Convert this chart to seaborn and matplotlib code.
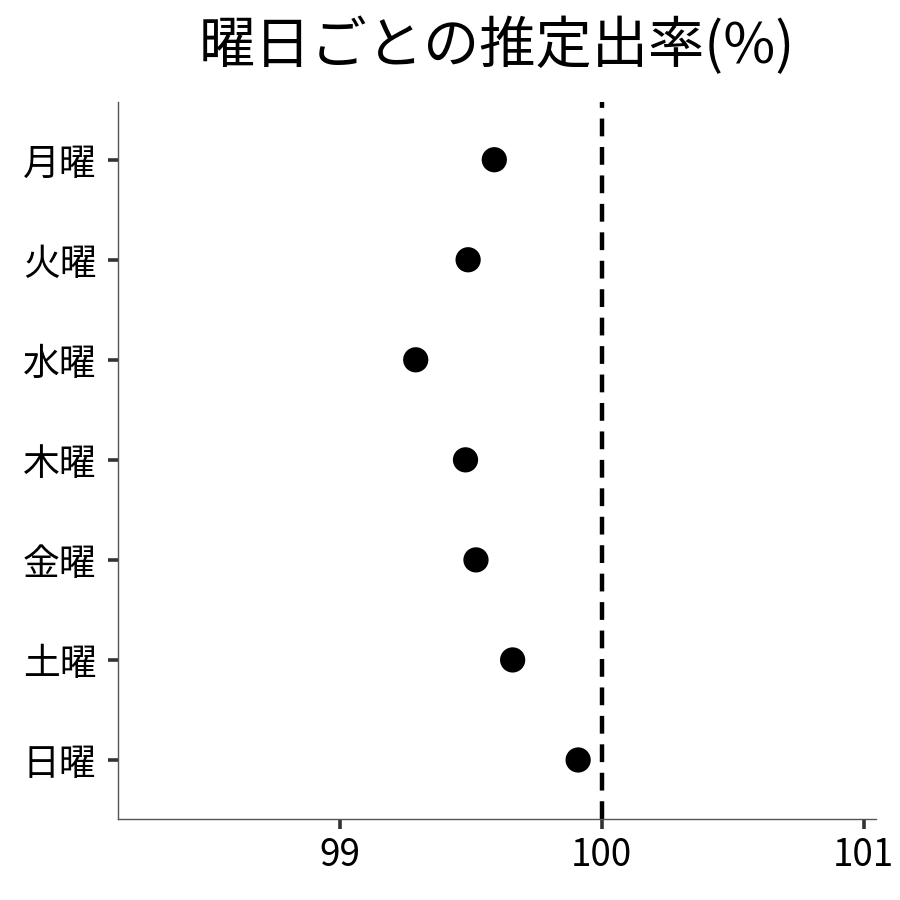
import pandas as pd
import matplotlib
matplotlib.use("Agg")
import matplotlib.pyplot as plt
import seaborn as sns

# data
days = ["月曜", "火曜", "水曜", "木曜", "金曜", "土曜", "日曜"]
rate = [99.59, 99.49, 99.29, 99.48, 99.52, 99.66, 99.91]
xticks = [99, 100, 101]

df = pd.DataFrame({"day": days, "rate": rate})

sns.set_style("white")
plt.rcParams["font.family"] = ["Noto Sans CJK JP", "DejaVu Sans"]

fig = plt.figure(figsize=(9, 9), dpi=100)
ax = fig.add_axes([0.131, 0.09, 0.842, 0.797])

sns.scatterplot(data=df, x="rate", y="day", color="black", s=330,
                edgecolor="none", ax=ax, zorder=3)
ax.axvline(100, color="black", linestyle=(0, (4, 2.4)), linewidth=3.2, zorder=2)

ax.set_xlim(98.153, 101.046)
ax.set_ylim(6.59, -0.58)
ax.set_xticks(xticks)
ax.set_xticklabels([str(t) for t in xticks])
ax.set_xlabel("")
ax.set_ylabel("")

for side in ["top", "right"]:
    ax.spines[side].set_visible(False)
for side in ["left", "bottom"]:
    ax.spines[side].set_color("#555555")
    ax.spines[side].set_linewidth(1.0)

ax.tick_params(axis="both", which="major", bottom=True, left=True,
               length=7.5, width=2.6, color="#333333", labelsize=26.5,
               labelcolor="black", pad=5)
ax.tick_params(axis="y", pad=8)

ax.set_title("曜日ごとの推定出率(%)", fontsize=40.5, color="black", pad=28)

fig.savefig("out.png", dpi=100)
